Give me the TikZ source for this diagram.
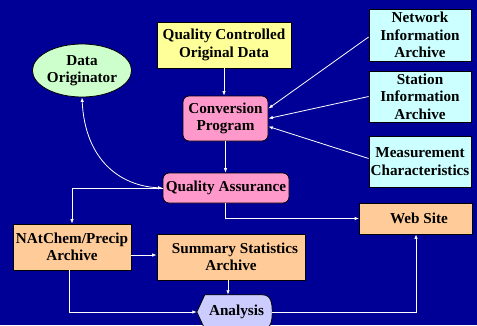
\documentclass[tikz,border=0pt]{standalone}
\usepackage{fontspec}
\setmainfont{Liberation Serif}
\usetikzlibrary{shapes.geometric,arrows.meta,calc,backgrounds}
\definecolor{bgblue}{RGB}{0,0,150}
\definecolor{qcyellow}{RGB}{255,255,153}
\definecolor{dogreen}{RGB}{204,255,204}
\definecolor{infocyan}{RGB}{204,255,255}
\definecolor{procpink}{RGB}{255,153,204}
\definecolor{archorange}{RGB}{255,204,153}
\definecolor{anlavender}{RGB}{204,204,255}
\tikzset{
  lbl/.style={font=\fontsize{15.2}{17.5}\selectfont\bfseries, align=center, text=black, inner sep=0pt},
  box/.style={lbl, draw=black, line width=0.8pt},
  databox/.style={box, fill=qcyellow},
  infobox/.style={box, fill=infocyan, minimum width=102pt, minimum height=51pt},
  procbox/.style={box, fill=procpink, rounded corners=6pt},
  archbox/.style={box, fill=archorange},
  flow/.style={draw=white, line width=0.8pt, -{Latex[length=4.5pt,width=3.5pt]}},
  flowboth/.style={draw=white, line width=0.8pt, {Latex[length=4.5pt,width=3.5pt]}-{Latex[length=4.5pt,width=3.5pt]}}
}
\begin{document}
\begin{tikzpicture}[x=1pt,y=-1pt]
\useasboundingbox (0,0) rectangle (477,325);
\clip (0,0) rectangle (477,325);
\begin{scope}[on background layer]
  \fill[bgblue] (0,0) rectangle (477,325);
\end{scope}

% sources and processing steps
\node[databox, minimum width=134pt, minimum height=46pt] (qc) at (224,45) {Quality Controlled\\Original Data};
\node[box, ellipse, fill=dogreen, minimum width=94pt, minimum height=53pt] (do) at (82,70.5) {Data\\Originator};
\node[infobox, minimum height=52pt] (net) at (420,35) {Network\\Information\\Archive};
\node[infobox] (sta) at (420,96.5) {Station\\Information\\Archive};
\node[infobox] (mea) at (420,161.5) {Measurement\\Characteristics};
\node[procbox, minimum width=85pt, minimum height=45pt] (conv) at (225.5,118.5) {Conversion\\Program};
\node[procbox, minimum width=126pt, minimum height=30pt] (qa) at (226,188) {Quality Assurance};

% outputs
\node[archbox, minimum width=113pt, minimum height=31pt] (web) at (416,218.5) {\hspace*{6pt}Web Site};
\node[archbox, minimum width=118pt, minimum height=46pt] (nat) at (72,247) {NAtChem/Precip\\Archive};
\node[archbox, minimum width=148pt, minimum height=46pt] (sum) at (231,257) {\hspace*{8pt}Summary Statistics\\Archive};
\node[lbl, minimum width=75pt, minimum height=34pt] (an) at (234.5,312) {\hspace*{4pt}Analysis};

% analysis shape: bevelled left end, rounded right end
\begin{scope}[on background layer]
  \filldraw[fill=anlavender, draw=black, line width=0.8pt]
    (an.west) -- ($(an.north west)+(8,0)$) -- ($(an.north east)+(-10,0)$)
    .. controls ($(an.north east)+(-1,0)$) and ($(an.east)+(0,-9)$) .. (an.east)
    .. controls ($(an.east)+(0,9)$) and ($(an.south east)+(-1,0)$) .. ($(an.south east)+(-10,0)$)
    -- ($(an.south west)+(8,0)$) -- cycle;
\end{scope}

% connectors
\draw[flow] (qc.south) -- (qc.south |- conv.north);
\draw[flow] (conv.south) -- (conv.south |- qa.north);
\draw[flow] ($(net.west)+(0,2)$) -- ($(conv.east)+(0,-10)$);
\draw[flow] (sta.west) -- ($(conv.east)+(0,0)$);
\draw[flow] ($(mea.west)+(0,-3)$) -- ($(conv.east)+(0,8)$);
\draw[flowboth] (do.south) .. controls (85,160) and (120,186) .. (qa.west);
\draw[flow] (qa.west) -| (nat.north);
\draw[flow] (conv.south |- qa.south) |- (web.west);
\draw[flow] (nat.east |- 0,255) -- (sum.west |- 0,255);
\draw[flow] ($(sum.south)+(-3,0)$) -- ($(sum.south |- an.north)+(-3,0)$);
\draw[flow] ($(nat.south)+(-3,0)$) |- (an.west);
\draw[flow] (an.east) -| (web.south);
\end{tikzpicture}
\end{document}
